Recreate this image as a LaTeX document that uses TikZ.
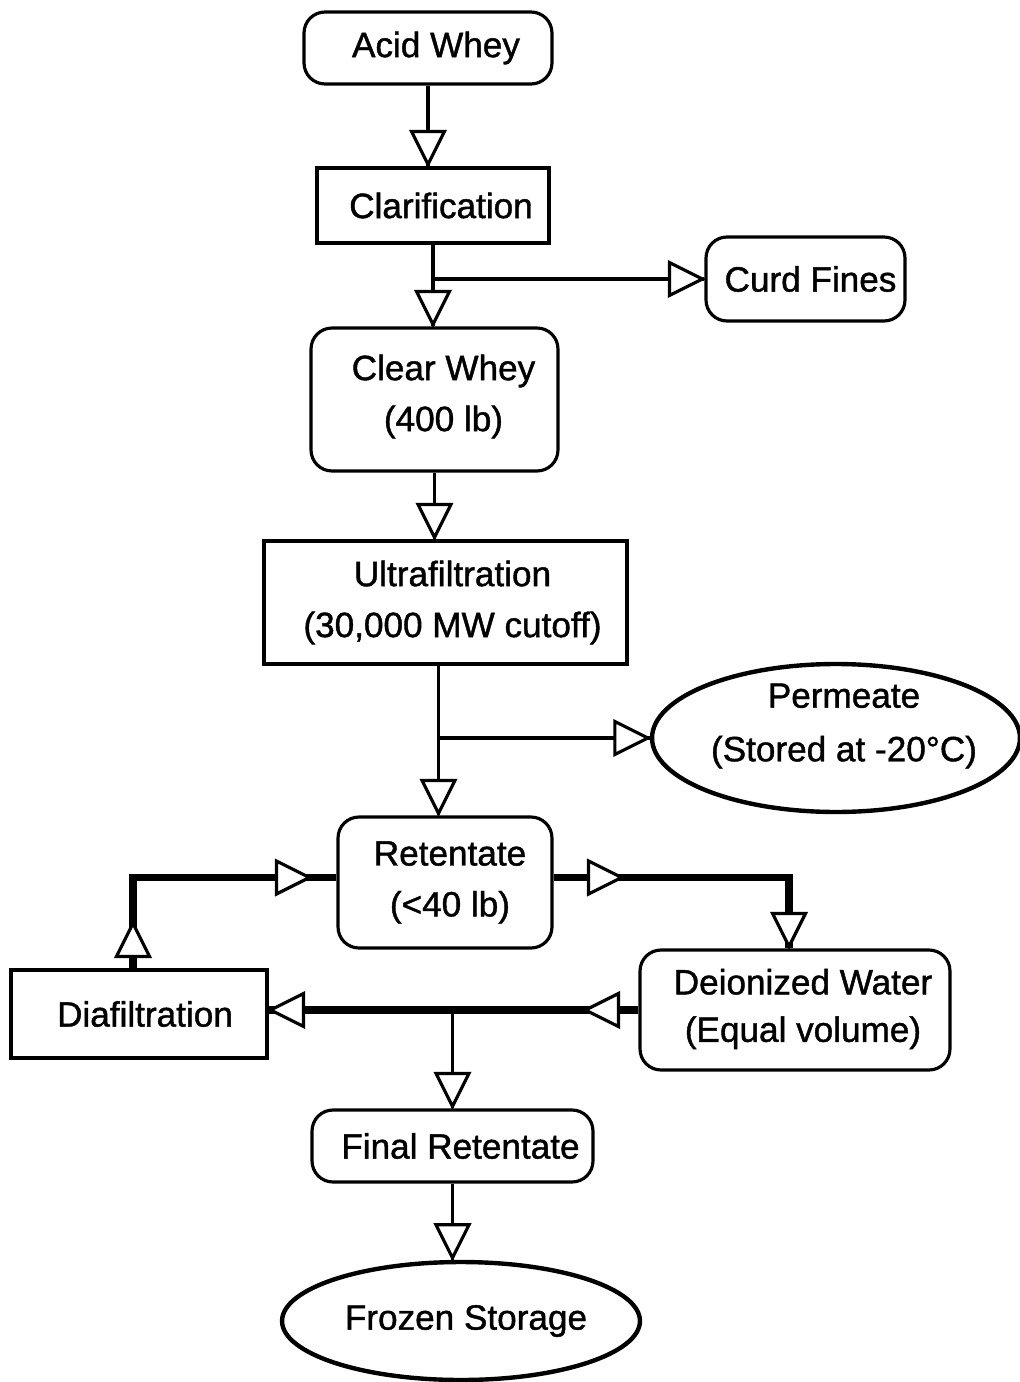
\documentclass[tikz,border=0pt]{standalone}
\usepackage{fontspec}
\setmainfont{Liberation Sans}[FakeBold=1.2]
\usetikzlibrary{shapes.geometric,decorations.markings,calc}
\tikzset{
  box/.style={draw, line width=1.8pt, inner sep=0pt},
  rbox/.style={box, rounded corners=0.42cm},
  ebox/.style={box, ellipse, line width=2.5pt},
  txt/.style={inner sep=0pt, align=center, font=\fontsize{20}{29}\selectfont},
  thin/.style={line width=1.8pt},
  thickline/.style={line width=4pt},
  tri/.style={draw, fill=white, line width=1.8pt, line join=miter},
  tipat/.style={postaction={decorate, decoration={markings, mark=at position #1 with {\draw[tri] (-2,0) -- (-35,16.5) -- (-35,-16.5) -- cycle;}}}},
}
\begin{document}
\begin{tikzpicture}[x=0.02cm, y=-0.02cm]
\useasboundingbox (0,0) rectangle (1019,1382);
% boxes
\node[rbox, minimum width=4.96cm, minimum height=1.44cm] (aw) at (428,48) {};
\node[box, minimum width=4.64cm, minimum height=1.5cm] (clar) at (433,205.5) {};
\node[rbox, minimum width=3.98cm, minimum height=1.68cm] (cf) at (805.5,279) {};
\node[rbox, minimum width=4.94cm, minimum height=2.86cm] (cw) at (434.5,399.5) {};
\node[box, minimum width=7.26cm, minimum height=2.46cm] (uf) at (445.5,602.5) {};
\node[ebox, minimum width=7.36cm, minimum height=2.96cm] (perm) at (836,738) {};
\node[rbox, minimum width=4.28cm, minimum height=2.62cm] (ret) at (445,882.5) {};
\node[box, minimum width=5.12cm, minimum height=1.76cm] (dia) at (139,1014) {};
\node[rbox, minimum width=6.2cm, minimum height=2.4cm] (dw) at (795,1010) {};
\node[rbox, minimum width=5.62cm, minimum height=1.44cm] (fr) at (452.5,1146) {};
\node[ebox, minimum width=7.16cm, minimum height=2.36cm] (fs) at (461,1321) {};
% texts
\node[txt] (awt) at ($(aw)+(8,0)$) {Acid Whey};
\node[txt] (clart) at ($(clar)+(8,0)$) {Clarification};
\node[txt] (cft) at ($(cf)+(5,0)$) {Curd Fines};
\node[txt] (cwt) at ($(cw)+(9,-3)$) {Clear Whey\\(400 lb)};
\node[txt] (uft) at ($(uf)+(7,0)$) {Ultrafiltration\\(30,000 MW cutoff)};
\node[txt, font=\fontsize{20}{30.5}\selectfont] (permt) at ($(perm)+(8,-12)$) {Permeate\\(Stored at -20°C)};
\node[txt] (rett) at ($(ret)+(5,0)$) {Retentate\\(<40 lb)};
\node[txt] (diat) at ($(dia)+(6,0)$) {Diafiltration};
\node[txt, font=\fontsize{20}{27}\selectfont] (dwt) at ($(dw)+(8,-1)$) {Deionized Water\\(Equal volume)};
\node[txt] (frt) at ($(fr)+(8,0)$) {Final Retentate};
\node[txt] (fst) at ($(fs)+(5,0)$) {Frozen Storage};
% helper coordinates
\coordinate (ufs) at ($(uf.south)+(-7,0)$);
\coordinate (rl) at ($(ret.west)+(0,-5)$);
\coordinate (rr) at ($(ret.east)+(0,-5)$);
\coordinate (dn) at ($(dia.north)+(-6,0)$);
\coordinate (dwn) at ($(dw.north)+(-6,0)$);
% connectors
\draw[thin, tipat=1] (aw.south) -- (aw.south |- clar.north);
\draw[thin, tipat=1] (clar.south) -- (clar.south |- cw.north);
\draw[thin, tipat=1] (clar.south |- cf.west) -- (cf.west);
\draw[thin, tipat=1] (cw.south) -- (cw.south |- uf.north);
\draw[thin, tipat=1] (ufs) -- (ufs |- ret.north);
\draw[thin, tipat=1] (ufs |- perm.west) -- (perm.west);
\draw[thickline, tipat=0.94cm, tipat=-0.5cm] (dn) |- (rl);
\draw[thickline, tipat=1.4cm, tipat=1] (rr) -| (dwn);
\draw[thickline, tipat=1.1cm, tipat=1] (dw.west) -- (dw.west -| dia.east);
\draw[thin, tipat=1] (fr.north |- dw.west) -- (fr.north);
\draw[thin, tipat=1] (fr.south) -- (fr.south |- fs.north);
\end{tikzpicture}
\end{document}
